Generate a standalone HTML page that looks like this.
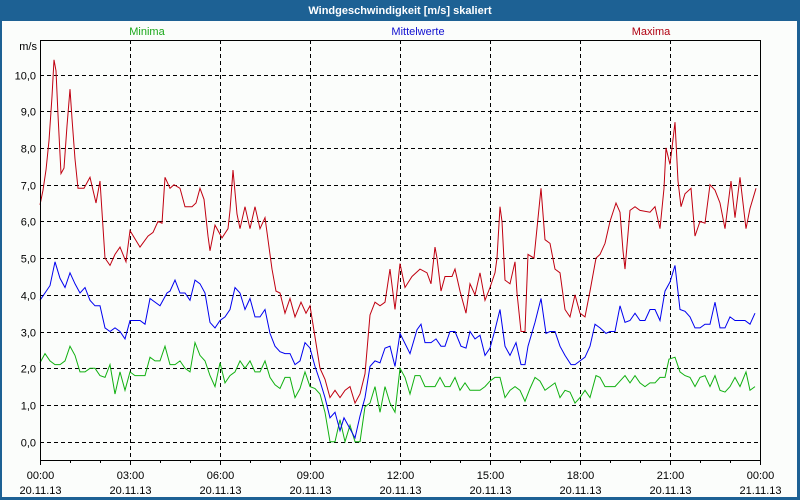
<!DOCTYPE html>
<html><head><meta charset="utf-8"><style>
html,body{margin:0;padding:0;width:800px;height:500px;overflow:hidden;background:#1d6194;}
svg{display:block;font-family:"Liberation Sans",sans-serif;}
</style></head><body>
<svg id="chart" width="800" height="500">
<rect x="0" y="0" width="800" height="500" fill="#1d6194"/>
<text x="400" y="14" text-anchor="middle" fill="#fff" font-size="11" font-weight="bold">Windgeschwindigkeit [m/s] skaliert</text>
<rect x="2" y="21" width="795" height="476" fill="#fbfdfb"/>
<text x="147" y="35" text-anchor="middle" fill="#1aa81a" font-size="11">Minima</text>
<text x="418" y="35" text-anchor="middle" fill="#1010d0" font-size="11">Mittelwerte</text>
<text x="651" y="35" text-anchor="middle" fill="#b00010" font-size="11">Maxima</text>
<text x="37" y="50" text-anchor="end" fill="#000" font-size="11">m/s</text>
<g id="grid"></g><g id="series"></g><g id="axes"></g>
</svg>
<script>
const yTicks=[0,1,2,3,4,5,6,7,8,9,10];
const yTickLabels=["0,0","1,0","2,0","3,0","4,0","5,0","6,0","7,0","8,0","9,0","10,0"];
const xTickHours=[0,3,6,9,12,15,18,21,24];
const xTickTimes=["00:00","03:00","06:00","09:00","12:00","15:00","18:00","21:00","00:00"];
const xTickDates=["20.11.13","20.11.13","20.11.13","20.11.13","20.11.13","20.11.13","20.11.13","20.11.13","21.11.13"];
const maxT=[0,6,12,18,24,28,32,36,42,48,54,60,64,70,76,88,100,112,120,130,140,150,160,172,180,200,216,226,236,244,250,260,268,280,290,304,312,320,328,336,340,350,364,376,380,386,394,400,410,420,430,440,450,456,464,472,480,490,500,510,522,532,540,550,560,570,580,590,600,610,620,630,640,650,660,670,680,690,700,710,720,730,744,760,774,782,790,794,802,810,824,830,840,852,860,870,880,890,900,910,914,920,924,930,940,950,954,962,970,976,988,1002,1010,1020,1030,1040,1050,1060,1070,1080,1090,1100,1112,1120,1130,1140,1152,1160,1166,1170,1180,1190,1200,1220,1230,1240,1248,1252,1260,1264,1270,1276,1282,1290,1302,1310,1320,1330,1340,1350,1360,1370,1382,1390,1400,1412,1420,1432];
const maxV=[6.45,6.85,7.4,8.2,9.4,10.4,10.1,8.9,7.3,7.45,8.6,9.6,8.8,7.7,6.9,6.9,7.2,6.5,7.1,5.0,4.8,5.1,5.3,4.9,5.75,5.3,5.6,5.7,6.0,5.95,7.2,6.9,7.0,6.9,6.4,6.4,6.5,6.9,6.6,5.6,5.2,5.9,5.55,5.8,6.3,7.4,6.2,5.8,6.4,5.8,6.4,5.8,6.1,5.5,4.7,4.1,4.05,3.5,3.9,3.4,3.8,3.5,3.7,2.85,2.0,1.7,1.2,1.4,1.2,1.4,1.5,1.05,1.3,1.85,3.45,3.8,3.7,3.8,4.7,3.6,4.85,4.2,4.5,4.7,4.6,4.3,5.3,5.0,4.1,4.5,4.5,4.7,4.1,3.5,4.3,4.0,4.6,3.85,4.2,4.6,5.0,6.4,6.0,4.4,4.3,4.9,4.05,3.0,3.0,5.1,5.0,6.9,5.5,5.4,4.7,4.6,3.6,3.4,4.0,3.5,3.4,4.1,5.0,5.1,5.4,6.0,6.5,6.25,5.2,4.7,6.3,6.4,6.3,6.25,6.4,5.8,6.9,8.0,7.55,8.0,8.7,7.1,6.4,6.75,6.9,5.6,6.0,5.95,7.0,6.85,6.5,5.8,7.1,6.1,7.2,5.8,6.35,6.9];
const meanT=[0,20,30,40,50,60,70,80,90,100,110,120,130,140,150,160,170,180,200,210,220,240,254,260,270,280,290,300,310,320,330,340,350,360,370,380,390,400,410,420,430,440,450,460,470,480,490,500,510,520,530,540,550,560,570,580,590,600,608,620,630,640,650,660,670,680,690,700,710,720,740,754,762,770,782,792,802,810,820,830,842,852,860,870,880,890,900,910,920,930,940,952,962,970,976,990,1002,1012,1020,1030,1040,1050,1062,1070,1080,1090,1100,1110,1120,1132,1140,1150,1160,1170,1180,1190,1200,1210,1220,1230,1240,1250,1260,1270,1280,1290,1300,1310,1320,1330,1340,1350,1360,1370,1380,1390,1410,1420,1430];
const meanV=[3.85,4.25,4.9,4.45,4.2,4.6,4.3,4.05,4.2,3.85,3.7,3.7,3.1,3.0,3.1,3.0,2.8,3.3,3.3,3.2,3.9,3.7,4.05,4.1,4.4,4.05,4.05,3.85,4.4,4.3,4.05,3.25,3.1,3.3,3.4,3.6,4.2,4.05,3.6,3.9,3.4,3.4,3.6,2.95,2.6,2.45,2.4,2.4,2.1,2.2,2.7,2.55,2.05,1.65,1.2,0.65,0.8,0.3,0.65,0.35,0.1,0.7,1.2,2.05,2.2,2.15,2.55,2.6,2.05,2.95,2.4,3.05,3.2,2.7,2.7,2.8,2.6,2.6,3.0,3.0,2.6,2.55,3.0,2.8,2.9,2.35,2.55,3.05,3.6,2.6,2.35,2.7,2.1,2.1,2.6,3.25,3.9,2.95,3.0,3.0,2.6,2.35,2.1,2.1,2.2,2.3,2.6,3.2,3.1,2.95,3.0,3.0,3.7,3.25,3.3,3.5,3.3,3.3,3.6,3.6,3.3,4.1,4.35,4.8,3.6,3.55,3.4,3.1,3.1,3.2,3.2,3.8,3.1,3.1,3.4,3.3,3.3,3.2,3.5];
const minT=[0,10,20,30,40,50,60,70,80,90,100,110,120,130,140,150,160,170,180,190,210,220,230,240,250,260,270,280,290,300,310,320,330,340,350,360,370,380,390,400,410,420,430,440,450,460,470,480,490,500,510,520,530,540,550,560,570,580,590,600,610,620,630,640,650,660,670,680,690,700,710,720,730,740,750,760,770,790,800,810,820,830,840,850,860,880,890,900,910,920,930,940,950,960,970,980,990,1000,1010,1020,1030,1040,1050,1060,1070,1080,1090,1100,1112,1120,1130,1150,1160,1170,1180,1190,1200,1210,1220,1230,1240,1250,1258,1270,1280,1290,1300,1310,1320,1330,1340,1350,1360,1370,1380,1390,1400,1412,1420,1430];
const minV=[2.15,2.4,2.2,2.1,2.1,2.2,2.6,2.35,1.9,1.9,2.0,2.0,1.8,1.75,2.1,1.3,1.9,1.4,1.9,1.8,1.8,2.3,2.2,2.2,2.6,2.1,2.1,2.2,2.0,1.9,2.7,2.35,2.2,1.8,1.5,2.15,1.6,1.8,1.9,2.2,2.0,2.2,1.9,1.9,2.2,1.75,1.55,1.45,1.75,1.75,1.2,1.45,1.9,1.5,1.45,1.3,0.8,0.0,0.0,0.6,0.0,0.45,0.0,0.0,0.95,1.05,1.5,0.8,1.5,1.05,0.8,2.0,1.75,1.3,1.8,1.8,1.5,1.5,1.75,1.5,1.5,1.75,1.4,1.6,1.4,1.4,1.5,1.65,1.75,1.75,1.2,1.4,1.5,1.4,1.1,1.45,1.75,1.65,1.4,1.5,1.6,1.2,1.4,1.35,1.05,1.2,1.4,1.2,1.8,1.75,1.5,1.5,1.65,1.8,1.6,1.8,1.6,1.5,1.6,1.6,1.75,1.75,2.25,2.3,1.9,1.8,1.75,1.5,1.75,1.8,1.5,1.8,1.4,1.35,1.5,1.75,1.5,1.9,1.4,1.5];

const NS='http://www.w3.org/2000/svg';
const X0=40,X1=760,Y0=460,YT=40;
function xs(min){return X0+(X1-X0)*min/1440;}
function ys(v){return 441.7-36.72*v;}
function mk(tag,attrs,parent){const e=document.createElementNS(NS,tag);for(const k in attrs)e.setAttribute(k,attrs[k]);parent.appendChild(e);return e;}
const grid=document.getElementById('grid'),axes=document.getElementById('axes'),series=document.getElementById('series');
yTicks.forEach((v,i)=>{
  const y=Math.round(ys(v))+0.5;
  const l=mk('line',{x1:X0,x2:X1,y1:y,y2:y,stroke:'#000','stroke-width':1,'stroke-dasharray':'4,3'},grid);
  
  
  const t=mk('text',{x:36,y:y+4,'text-anchor':'end','font-size':11,fill:'#000'},axes);
  t.textContent=yTickLabels[i];
  
  
});
for(let h=0;h<=24;h++){
  const x=Math.round(xs(h*60))+0.5;
  const major=h%3===0;
  const tk=mk('line',{x1:x,x2:x,y1:Y0,y2:Y0+(major?5:3),stroke:'#000'},axes);
  
  
}
xTickHours.forEach((h,i)=>{
  const x=Math.round(xs(h*60))+0.5;
  if(h>0&&h<24){
    const g=mk('line',{x1:x,x2:x,y1:YT,y2:Y0,stroke:'#000','stroke-dasharray':'4,3'},grid);
    
    
  }
  const t1=mk('text',{x:x,y:479,'text-anchor':'middle','font-size':11,fill:'#000'},axes);
  t1.textContent=xTickTimes[i];
  
  
  const t2=mk('text',{x:x,y:494,'text-anchor':'middle','font-size':11,fill:'#000'},axes);
  t2.textContent=xTickDates[i];
  
  
});
const frame=mk('path',{d:`M${X0+0.5},${YT+0.5} H${X1+0.5} V${Y0+0.5} H${X0+0.5} Z`,fill:'none',stroke:'#000'},axes);


function line(T,V,color,name){
  const d=T.map((t,i)=>(i?'L':'M')+xs(t).toFixed(1)+','+ys(V[i]).toFixed(1)).join(' ');
  const p=mk('path',{d:d,fill:'none',stroke:color,'stroke-width':1},series);
  
  
}
line(minT,minV,'#10b010','series-minima');
line(meanT,meanV,'#0000f0','series-mittelwerte');
line(maxT,maxV,'#c00010','series-maxima');
</script>
</body></html>
